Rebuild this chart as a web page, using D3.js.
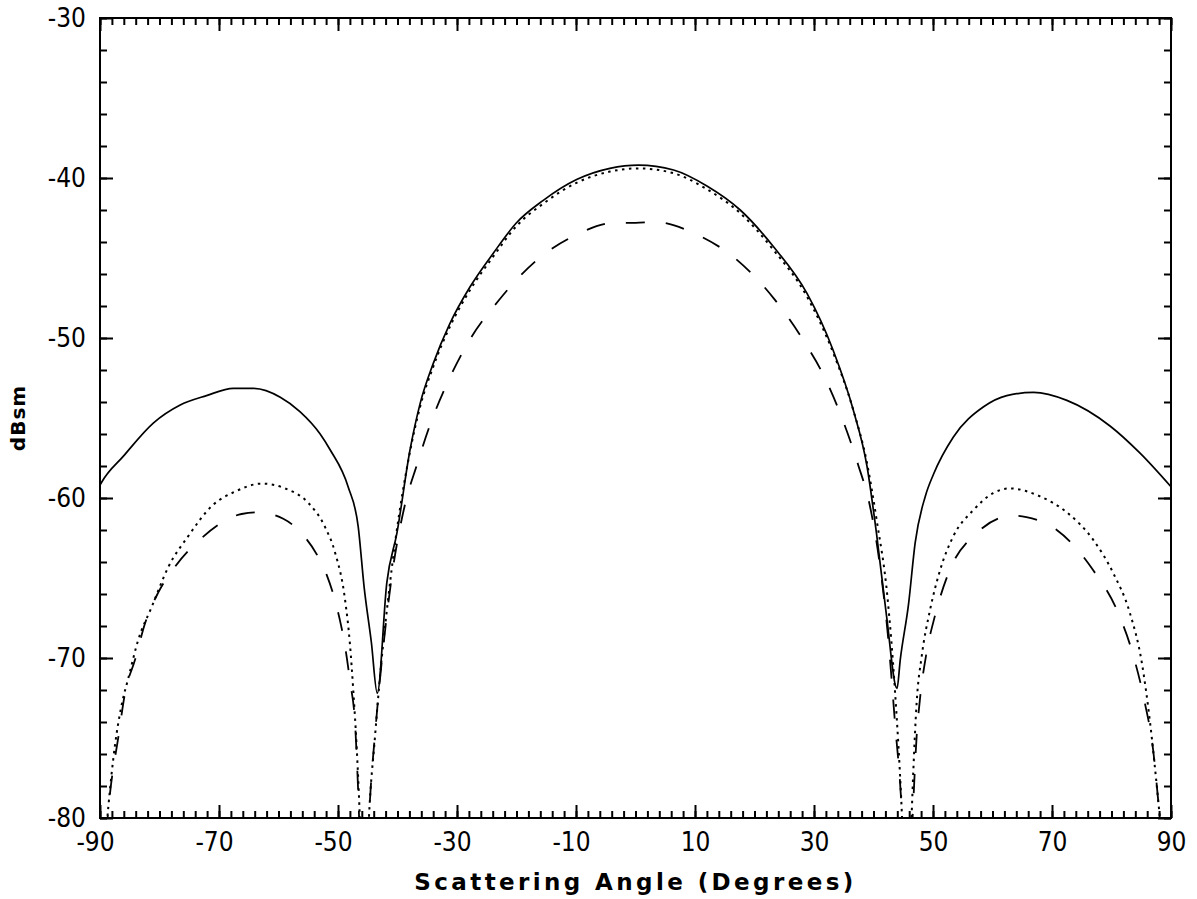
<!DOCTYPE html>
<html><head><meta charset="utf-8">
<script src="https://cdn.jsdelivr.net/npm/d3@7"></script>
<style>body{margin:0;background:#fff} svg{display:block}</style>
</head><body>
<svg id="c" width="1197" height="899"></svg>
<script>
// ---- data ----
const angleSolid = [-90,-89.7,-86.1,-81.0,-76.6,-72.1,-67.6,-64.2,-59.7,-56.4,-53.0,-51.3,-48.3,-46.6,-45.6,-44.4,-43.4,-41.8,-40.1,-37.9,-36.2,-34.0,-31.2,-27.8,-23.9,-20.0,-15.5,-9.9,-4.3,0.5,6.4,12.0,17.6,23.2,28.8,33.2,36.6,38.9,40.5,42.2,43.95,44.5,45.9,47.0,48.7,50.1,53.4,58.5,62.4,66.9,72.5,79.75,84.8,90];
const dbSolid    = [-59.2,-59.0,-57.4,-55.3,-54.2,-53.6,-53.15,-53.15,-53.7,-54.6,-56.0,-57.0,-59.3,-61.8,-65.6,-69.0,-72.2,-65.3,-62.2,-57.0,-54.1,-51.6,-49.1,-46.8,-44.7,-42.8,-41.4,-40.1,-39.4,-39.2,-39.5,-40.5,-42.0,-44.3,-47.2,-50.75,-54.5,-58.0,-62.2,-67.4,-71.9,-70.1,-66.6,-62.8,-59.9,-58.5,-56.2,-54.3,-53.6,-53.4,-53.9,-55.5,-57.2,-59.3];

const angleDotted = [-90,-88.6,-87.5,-86.4,-85.2,-83.6,-81.3,-78.5,-75.2,-71.2,-67.3,-62.8,-58.9,-55.0,-52.2,-50.5,-48.8,-48.0,-47.4,-46.9,-46.4,-45.6,-44.8,-43.8,-42.9,-41.6,-40.3,-38.0,-36.2,-34.0,-31.2,-27.8,-23.9,-20.0,-15.5,-9.9,-4.3,0.5,6.4,12.0,17.6,23.2,28.8,33.2,36.6,38.9,40.5,42.4,43.6,44.8,45.6,46.4,46.7,47.25,48.1,49.5,51.2,53.4,56.8,60.1,62.9,68.0,72.5,76.9,80.3,83.1,85.1,86.5,87.9,90];
const dbDotted    = [-86,-79.3,-75.5,-73.0,-71.2,-68.9,-66.8,-64.3,-62.4,-60.5,-59.6,-59.1,-59.4,-60.3,-61.8,-63.4,-66.4,-69.1,-72.2,-75.3,-79.3,-88,-80,-75,-71,-66.4,-62.5,-57.3,-54.3,-51.8,-49.3,-47.0,-44.9,-43.0,-41.6,-40.3,-39.6,-39.4,-39.7,-40.7,-42.2,-44.5,-47.4,-50.9,-54.5,-57.8,-61.3,-66.4,-72,-80,-88,-79.9,-77.0,-72.8,-69.9,-67.0,-64.5,-62.4,-60.75,-59.7,-59.4,-59.9,-60.9,-62.6,-64.7,-67.2,-70.3,-74.1,-79.1,-88];

const angleDashed = [-90,-88.3,-86.9,-85.8,-84.1,-82.4,-80.2,-77.4,-72.9,-69.8,-66.2,-63.4,-59.2,-56.4,-53.3,-51.9,-50.5,-49.7,-48.8,-48.0,-47.1,-46.6,-45.7,-44.8,-43.6,-42.3,-40.8,-38.8,-36.8,-34.5,-31.6,-28.0,-23.1,-16.8,-10.2,-3.5,0,3.4,10.1,17.0,23.4,28.3,32.1,35.0,37.4,39.4,41.0,42.4,43.6,44.8,45.6,46.7,47.25,47.8,48.9,50.3,52.6,57.3,63.5,65.7,70.8,76.9,80.9,83.7,85.6,87.0,87.9,90];
const dbDashed    = [-86,-78.4,-74.9,-72.2,-70.1,-67.8,-65.9,-64.3,-62.5,-61.6,-61.0,-60.9,-61.3,-62.1,-63.7,-64.8,-66.4,-67.6,-69.3,-71.4,-74.3,-78.4,-88,-80,-74,-69,-64.5,-60.5,-58.0,-55.4,-52.8,-50.2,-47.7,-45.2,-43.6,-42.8,-42.8,-42.75,-43.5,-45.1,-47.6,-50.2,-52.7,-55.3,-57.9,-60.5,-64,-68.5,-74,-80,-88,-78.9,-74.9,-72.6,-69.7,-67.4,-64.7,-62.2,-61.1,-61.2,-62.0,-64.5,-67.0,-69.9,-72.8,-75.75,-79.1,-88];

const xMajorTicks = [-90,-70,-50,-30,-10,10,30,50,70,90];
const xMinorTicks = d3.range(-90, 91, 2);
const yMajorTicks = [-80,-70,-60,-50,-40,-30];
const yMinorTicks = d3.range(-80, -29, 2);

// ---- layout ----
const L = 100, R = 1171, T = 18, B = 818;
const svg = d3.select("#c");
const x = d3.scaleLinear().domain([-90, 90]).range([L, R]);
const y = d3.scaleLinear().domain([-80, -30]).range([B, T]);
const FONT = "'DejaVu Sans Condensed','Liberation Sans Narrow','DejaVu Sans',sans-serif";
const fmt = d => (d < 0 ? "-" : "") + Math.abs(d);

function styleAxis(g) {
  g.select(".domain").remove();
  g.selectAll("line").attr("stroke", "#000").attr("stroke-width", 2);
  g.selectAll("text").attr("fill", "#000").style("font-family", FONT).style("font-size", "26px");
}

// minor ticks
svg.append("g").attr("transform", `translate(0,${B})`)
  .call(d3.axisBottom(x).tickValues(xMinorTicks).tickSize(-7).tickFormat("")).call(styleAxis);
svg.append("g").attr("transform", `translate(0,${T})`)
  .call(d3.axisTop(x).tickValues(xMinorTicks).tickSize(-7).tickFormat("")).call(styleAxis);
svg.append("g").attr("transform", `translate(${L},0)`)
  .call(d3.axisLeft(y).tickValues(yMinorTicks).tickSize(-7).tickFormat("")).call(styleAxis);
svg.append("g").attr("transform", `translate(${R},0)`)
  .call(d3.axisRight(y).tickValues(yMinorTicks).tickSize(-7).tickFormat("")).call(styleAxis);

// major ticks + labels
const xb = svg.append("g").attr("transform", `translate(0,${B})`)
  .call(d3.axisBottom(x).tickValues(xMajorTicks).tickSize(-13).tickPadding(15).tickFormat(fmt)).call(styleAxis);
xb.selectAll("text").attr("dx", d => d < 0 ? -5 : 0);
svg.append("g").attr("transform", `translate(0,${T})`)
  .call(d3.axisTop(x).tickValues(xMajorTicks).tickSize(-13).tickFormat("")).call(styleAxis);
svg.append("g").attr("transform", `translate(${L},0)`)
  .call(d3.axisLeft(y).tickValues(yMajorTicks).tickSize(-13).tickPadding(14).tickFormat(fmt)).call(styleAxis);
svg.append("g").attr("transform", `translate(${R},0)`)
  .call(d3.axisRight(y).tickValues(yMajorTicks).tickSize(-13).tickFormat("")).call(styleAxis);

// frame
svg.append("rect").attr("x", L).attr("y", T).attr("width", R - L).attr("height", B - T)
  .attr("fill", "none").attr("stroke", "#000").attr("stroke-width", 2);

// clip
svg.append("clipPath").attr("id", "clip").append("rect")
  .attr("x", L).attr("y", T).attr("width", R - L).attr("height", B - T);

const line = d3.line().x(d => x(d[0])).y(d => y(d[1])).curve(d3.curveMonotoneX);
const zip = (a, b) => a.map((v, i) => [v, b[i]]);
const plot = svg.append("g").attr("clip-path", "url(#clip)");

plot.append("path").datum(zip(angleDashed, dbDashed)).attr("d", line)
  .attr("fill", "none").attr("stroke", "#000").attr("stroke-width", 1.8).attr("stroke-dasharray", "19,21");
plot.append("path").datum(zip(angleDotted, dbDotted)).attr("d", line)
  .attr("fill", "none").attr("stroke", "#000").attr("stroke-width", 2).attr("stroke-dasharray", "2.5,4.5");
plot.append("path").datum(zip(angleSolid, dbSolid)).attr("d", line)
  .attr("fill", "none").attr("stroke", "#000").attr("stroke-width", 1.7);

// titles
svg.append("text").attr("x", (L + R) / 2).attr("y", 890).attr("text-anchor", "middle")
  .style("font-family", "'DejaVu Sans',sans-serif").style("font-weight", "bold")
  .style("font-size", "23px").style("letter-spacing", "3.4px").text("Scattering Angle (Degrees)");
svg.append("text").attr("transform", "translate(25,418) rotate(-90)").attr("text-anchor", "middle")
  .style("font-family", "'DejaVu Sans',sans-serif").style("font-weight", "bold")
  .style("font-size", "20px").style("letter-spacing", "1px").text("dBsm");
</script>
</body></html>
